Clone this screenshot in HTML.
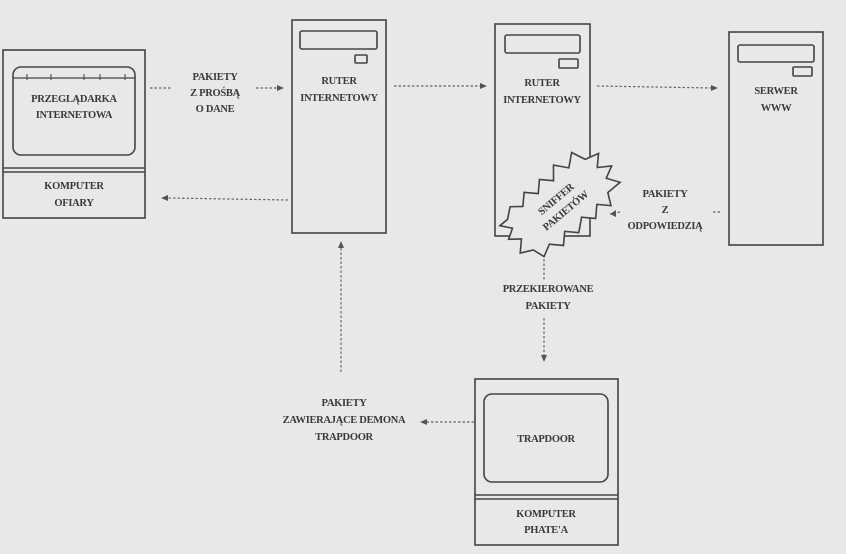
<!DOCTYPE html>
<html><head><meta charset="utf-8"><style>
html,body{margin:0;padding:0;background:#e8e8e6;}
svg{display:block}
text{font-family:"Liberation Serif",serif;font-size:10.5px;fill:#3a3a3a;text-anchor:middle;font-weight:bold;letter-spacing:-0.3px}
.b{fill:none;stroke:#444;stroke-width:1.6}
.d{fill:none;stroke:#666;stroke-width:1.2;stroke-dasharray:2.5 2}
.ah{fill:#555}
</style></head><body>
<svg width="846" height="554" viewBox="0 0 846 554" xmlns="http://www.w3.org/2000/svg">
<rect width="846" height="554" fill="#e8e8e6"/>
<rect class="b" x="3" y="50" width="142" height="168"/>
<line class="b" x1="3" y1="168" x2="145" y2="168"/>
<line class="b" x1="3" y1="172" x2="145" y2="172"/>
<rect class="b" x="13" y="67" width="122" height="88" rx="8"/>
<line class="b" x1="13" y1="78" x2="135" y2="78" style="stroke-width:1.2"/>
<g stroke="#444" stroke-width="1"><line x1="27" y1="74" x2="27" y2="80"/><line x1="51" y1="74" x2="51" y2="80"/><line x1="84" y1="74" x2="84" y2="80"/><line x1="100" y1="74" x2="100" y2="80"/><line x1="125" y1="74" x2="125" y2="80"/></g>
<text x="74" y="102">PRZEGLĄDARKA</text><text x="74" y="118">INTERNETOWA</text>
<text x="74" y="189">KOMPUTER</text><text x="74" y="206">OFIARY</text>
<rect class="b" x="292" y="20" width="94" height="213"/>
<rect class="b" x="300" y="31" width="77" height="18" rx="2"/>
<rect class="b" x="355" y="55" width="12" height="8" rx="1"/>
<text x="339" y="84">RUTER</text><text x="339" y="101">INTERNETOWY</text>
<rect class="b" x="495" y="24" width="95" height="212"/>
<rect class="b" x="505" y="35" width="75" height="18" rx="2"/>
<rect class="b" x="559" y="59" width="19" height="9" rx="1"/>
<text x="542" y="86">RUTER</text><text x="542" y="103">INTERNETOWY</text>
<rect class="b" x="729" y="32" width="94" height="213"/>
<rect class="b" x="738" y="45" width="76" height="17" rx="2"/>
<rect class="b" x="793" y="67" width="19" height="9" rx="1"/>
<text x="776" y="94">SERWER</text><text x="776" y="111">WWW</text>
<rect class="b" x="475" y="379" width="143" height="166"/>
<line class="b" x1="475" y1="495" x2="618" y2="495"/>
<line class="b" x1="475" y1="499" x2="618" y2="499"/>
<rect class="b" x="484" y="394" width="124" height="88" rx="8"/>
<text x="546" y="442">TRAPDOOR</text>
<text x="546" y="517">KOMPUTER</text><text x="546" y="533">PHATE'A</text>
<line class="d" x1="150" y1="88" x2="172" y2="88"/>
<line class="d" x1="256" y1="88" x2="278" y2="88"/><polygon class="ah" points="284,88 277,85 277,91"/>
<text x="215" y="80">PAKIETY</text><text x="215" y="96">Z PROŚBĄ</text><text x="215" y="112">O DANE</text>
<line class="d" x1="394" y1="86" x2="482" y2="86"/><polygon class="ah" points="487,86 480,83 480,89"/>
<line class="d" x1="597" y1="86" x2="713" y2="88"/><polygon class="ah" points="718,88 711,85 711,91"/>
<line class="d" x1="288" y1="200" x2="168" y2="198"/><polygon class="ah" points="161,198 168,195 168,201"/>
<line class="d" x1="341" y1="372" x2="341" y2="248"/><polygon class="ah" points="341,241 338,248 344,248"/>
<line class="d" x1="544" y1="250" x2="544" y2="280"/>
<line class="d" x1="544" y1="318" x2="544" y2="356"/><polygon class="ah" points="544,362 541,355 547,355"/>
<text x="548" y="292">PRZEKIEROWANE</text><text x="548" y="309">PAKIETY</text>
<line class="d" x1="474" y1="422" x2="426" y2="422"/><polygon class="ah" points="420,422 427,419 427,425"/>
<text x="344" y="406">PAKIETY</text><text x="344" y="423">ZAWIERAJĄCE DEMONA</text><text x="344" y="440">TRAPDOOR</text>
<line class="d" x1="720" y1="212" x2="712" y2="212"/>
<line class="d" x1="620" y1="212" x2="610" y2="214"/><polygon class="ah" points="610,214 616,210 616,217"/>
<text x="665" y="197">PAKIETY</text><text x="665" y="213">Z</text><text x="665" y="229">ODPOWIEDZIĄ</text>
<g transform="translate(560,204) rotate(-40)">
<polygon fill="#e8e8e6" stroke="#444" stroke-width="1.6" points="-50,-22 -40,-30 -30,-22 -20,-32 -10,-22 0,-32 10,-22 20,-34 30,-22 42,-32 48,-18 62,-14 52,-4 64,4 52,10 60,22 44,22 38,34 28,24 18,34 8,24 -4,34 -14,24 -24,34 -34,24 -46,30 -50,18 -62,12 -52,2 -62,-6 -52,-12 -60,-22"/>
<text x="0" y="-3">SNIFFER</text><text x="0" y="12">PAKIETÓW</text>
</g>
</svg>
</body></html>
